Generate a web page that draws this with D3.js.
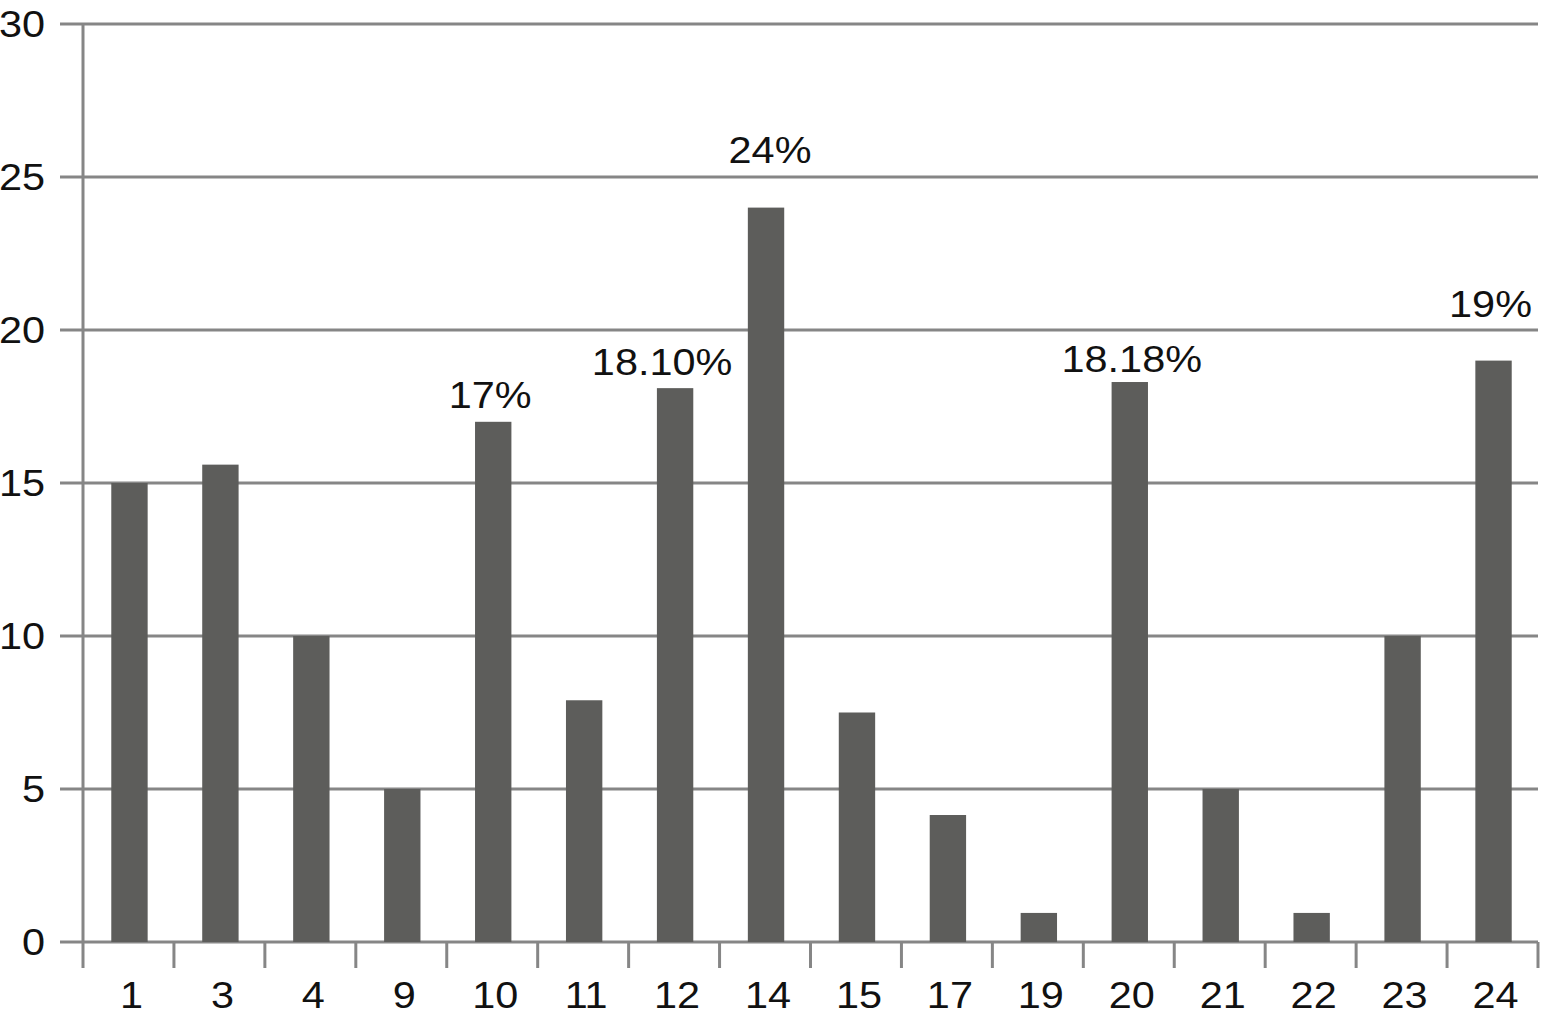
<!DOCTYPE html>
<html>
<head>
<meta charset="utf-8">
<script src="https://cdn.jsdelivr.net/npm/d3@7"></script>
<style>
  html, body { margin: 0; padding: 0; background: #fff; }
  svg { display: block; }
  text { font-family: "Liberation Sans", Arial, Helvetica, sans-serif; fill: #111; }
</style>
</head>
<body>
<svg id="chart" width="1542" height="1018"></svg>
<script>
const categories = ["1","3","4","9","10","11","12","14","15","17","19","20","21","22","23","24"];
const values = [15, 15.6, 10, 5, 17, 7.9, 18.1, 24, 7.5, 4.15, 0.95, 18.3, 5, 0.95, 10, 19];
const yTicks = [0, 5, 10, 15, 20, 25, 30];
const annotations = [
  { cat: "10", text: "17%", value: 17.45, dx: -2 },
  { cat: "12", text: "18.10%", value: 18.53, dx: -12 },
  { cat: "14", text: "24%", value: 25.46, dx: 5 },
  { cat: "20", text: "18.18%", value: 18.63, dx: 3 },
  { cat: "24", text: "19%", value: 20.42, dx: -2 }
];

(function () {
const svg = d3.select("#chart");
const mLeft = 83, mRight = 1538, mTop = 24, mBottom = 942;
const gridColor = "#868686";
const barColor = "#5d5d5b";
const sx = 1.12; // horizontal stretch of text in reference
const fs = 37;

const x = d3.scaleBand().domain(categories).range([mLeft, mRight]).padding(0);
const y = d3.scaleLinear().domain([0, 30]).range([mBottom, mTop]);

// gridlines
svg.append("g").selectAll("line").data(yTicks).join("line")
  .attr("x1", 60).attr("x2", mRight)
  .attr("y1", d => y(d)).attr("y2", d => y(d))
  .attr("stroke", gridColor).attr("stroke-width", 3);

// y axis line
svg.append("line")
  .attr("x1", mLeft).attr("x2", mLeft)
  .attr("y1", y(30)).attr("y2", mBottom + 26)
  .attr("stroke", gridColor).attr("stroke-width", 3);

// x tick marks at band boundaries
const boundaries = categories.map(c => x(c)).concat([x(categories[categories.length - 1]) + x.bandwidth()]);
svg.append("g").selectAll("line").data(boundaries.slice(1)).join("line")
  .attr("x1", d => d).attr("x2", d => d)
  .attr("y1", mBottom).attr("y2", mBottom + 26)
  .attr("stroke", gridColor).attr("stroke-width", 3);

// y labels
svg.append("g").selectAll("text").data(yTicks).join("text")
  .attr("text-anchor", "end")
  .attr("transform", d => `translate(45,${y(d) + 13}) scale(${sx},1)`)
  .attr("font-size", fs)
  .text(d => d);

// bars
const bw = x.bandwidth() * 0.4;
svg.append("g").selectAll("rect").data(values).join("rect")
  .attr("x", (d, i) => x(categories[i]) + x.bandwidth() / 2 - bw / 2 + 1)
  .attr("width", bw)
  .attr("y", d => y(d))
  .attr("height", d => mBottom - y(d))
  .attr("fill", barColor);

// x labels
svg.append("g").selectAll("text").data(categories).join("text")
  .attr("text-anchor", "middle")
  .attr("transform", d => `translate(${x(d) + x.bandwidth() / 2 + 3},1008) scale(${sx},1)`)
  .attr("font-size", fs)
  .text(d => d);

// annotations
svg.append("g").selectAll("text").data(annotations).join("text")
  .attr("text-anchor", "middle")
  .attr("transform", d => `translate(${x(d.cat) + x.bandwidth() / 2 + d.dx},${y(d.value)}) scale(${sx},1)`)
  .attr("font-size", fs)
  .text(d => d.text);
})();
</script>
</body>
</html>
